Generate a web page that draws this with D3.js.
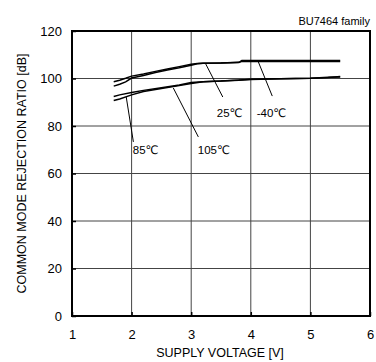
<!DOCTYPE html>
<html><head><meta charset="utf-8">
<script src="https://cdn.jsdelivr.net/npm/d3@7"></script>
<style>body{margin:0;background:#fff}svg{display:block}text{font-family:"Liberation Sans",Arial,sans-serif;fill:#000}</style>
</head><body>
<script>
const xTicks = [1, 2, 3, 4, 5, 6];
const yTicks = [0, 20, 40, 60, 80, 100, 120];
const voltsHi = [1.7, 1.8, 1.9, 2.0, 2.2, 2.4, 2.6, 2.8, 3.0, 3.1, 3.2, 3.5, 3.8, 3.85, 4.2, 5.0, 5.5];
const cmrrM40 = [98.6, 99.3, 100.1, 101.0, 101.9, 103.0, 104.0, 105.0, 106.0, 106.3, 106.4, 106.5, 106.7, 107.2, 107.2, 107.2, 107.2];
const cmrr25  = [96.8, 97.6, 98.6, 100.2, 101.3, 102.5, 103.6, 104.5, 105.6, 106.2, 106.4, 106.5, 106.8, 107.6, 107.6, 107.6, 107.6];
const voltsLo = [1.7, 1.8, 2.0, 2.2, 2.5, 2.8, 3.0, 3.2, 3.5, 3.8, 4.0, 4.5, 5.0, 5.3, 5.5];
const cmrr85  = [92.4, 93.1, 94.1, 95.0, 96.1, 97.3, 98.3, 98.6, 98.9, 99.3, 99.7, 99.9, 100.1, 100.5, 100.6];
const cmrr105 = [90.7, 91.4, 93.1, 94.5, 95.8, 97.0, 97.9, 98.6, 98.9, 99.4, 99.6, 99.9, 100.1, 100.4, 100.8];
const labels = ["-40℃", "25℃", "85℃", "105℃"];
// annotation: leader from (v1,c1) to (v2,c2), label at (lv,lc)
const notes = [
  {t: labels[0], v1: 4.12, c1: 107.4, v2: 4.36, c2: 92.6, lv: 4.10, lc: 83.8},
  {t: labels[1], v1: 3.24, c1: 106.3, v2: 3.53, c2: 92.2, lv: 3.43, lc: 83.8},
  {t: labels[2], v1: 1.91, c1: 92.2, v2: 2.03, c2: 73.3, lv: 2.02, lc: 68.2},
  {t: labels[3], v1: 2.70, c1: 96.0, v2: 3.12, c2: 75.4, lv: 3.11, lc: 68.2}
];
const series = [
  {v: voltsHi, c: cmrrM40}, {v: voltsHi, c: cmrr25},
  {v: voltsLo, c: cmrr85}, {v: voltsLo, c: cmrr105}
];

const W = 376, H = 362;
const L = 72, R = 370, T = 31, B = 316;
const FF = "'Liberation Sans',Arial,sans-serif";
const svg = d3.select("body").append("svg").attr("width", W).attr("height", H);
const x = d3.scaleLinear().domain([1, 6]).range([L, R]);
const y = d3.scaleLinear().domain([0, 120]).range([B, T]);

// grid
svg.append("g").selectAll("line").data(xTicks.slice(1, -1)).join("line")
  .attr("x1", d => x(d)).attr("x2", d => x(d)).attr("y1", T).attr("y2", B)
  .attr("stroke", "#444").attr("stroke-width", 1);
svg.append("g").selectAll("line").data(yTicks.slice(1, -1)).join("line")
  .attr("x1", L).attr("x2", R).attr("y1", d => y(d)).attr("y2", d => y(d))
  .attr("stroke", "#444").attr("stroke-width", 1);

// axes
const xAx = svg.append("g").attr("transform", `translate(0,${B})`)
  .call(d3.axisBottom(x).tickValues(xTicks).tickFormat(d3.format("d")).tickSize(-4).tickPadding(14));
const yAx = svg.append("g").attr("transform", `translate(${L},0)`)
  .call(d3.axisLeft(y).tickValues(yTicks).tickFormat(d3.format("d")).tickSize(-4).tickPadding(10));
[xAx, yAx].forEach(a => {
  a.attr("font-family", FF);
  a.select(".domain").remove();
  a.selectAll(".tick line").attr("stroke", "#000").attr("stroke-width", 1.5);
  a.selectAll("text").style("font-size", "13px").style("font-family", FF);
});
svg.append("rect").attr("x", L).attr("y", T).attr("width", R - L).attr("height", B - T)
  .attr("fill", "none").attr("stroke", "#000").attr("stroke-width", 2);

// curves
const line = d3.line().x(d => x(d[0])).y(d => y(d[1]));
series.forEach(s => {
  svg.append("path").datum(s.v.map((v, i) => [v, s.c[i]]))
    .attr("d", line).attr("fill", "none").attr("stroke", "#000").attr("stroke-width", 1.5);
});

// annotations
const ng = svg.append("g");
notes.forEach(n => {
  ng.append("line").attr("x1", x(n.v1)).attr("y1", y(n.c1)).attr("x2", x(n.v2)).attr("y2", y(n.c2))
    .attr("stroke", "#000").attr("stroke-width", 1);
  ng.append("text").attr("x", x(n.lv)).attr("y", y(n.lc)).text(n.t)
    .style("font-size", "11.5px").style("font-family", "'Liberation Sans','DejaVu Sans',sans-serif");
});

// titles
svg.append("text").attr("x", R).attr("y", 25).attr("text-anchor", "end")
  .style("font-size", "11px").text("BU7464 family");
svg.append("text").attr("x", (L + R) / 2 - 1).attr("y", 357).attr("text-anchor", "middle")
  .style("font-size", "12.5px").text("SUPPLY VOLTAGE [V]");
svg.append("text").attr("transform", `translate(26,${(T + B) / 2}) rotate(-90)`).attr("text-anchor", "middle")
  .style("font-size", "12.5px").text("COMMON MODE REJECTION RATIO [dB]");
</script>
</body></html>
